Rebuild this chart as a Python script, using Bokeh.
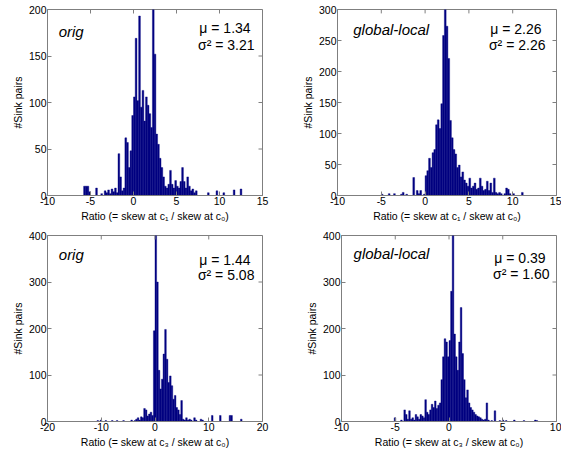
import numpy as np
from bokeh.plotting import figure
from bokeh.models import Range1d, Label, FixedTicker, ColumnDataSource
from bokeh.layouts import row, column
from bokeh.embed import file_html
from bokeh.resources import INLINE

# ---------------- data (histogram counts) ----------------
# Panel 1: orig, ratio skew c1 / c0 ; bins of 0.2 starting at -6.0
p1_start, p1_bin = -6.0, 0.2
p1_counts = [0, 10, 10, 10, 4,
             0, 0, 0, 8, 0,
             0, 2, 0, 5, 3,
             6, 2, 7, 4, 8,
             3, 45, 20, 5, 8,
             62, 57, 30, 48, 86,
             106, 169, 102, 193, 95,
             113, 80, 106, 97, 88,
             73, 200, 152, 66, 55,
             40, 30, 20, 10, 8,
             12, 27, 12, 8, 16,
             10, 8, 15, 30, 15,
             8, 20, 10, 5, 7,
             3, 5, 0, 0, 0,
             0, 0, 0, 3, 0,
             0, 0, 0, 5, 0,
             0, 0, 3, 0, 0,
             0, 0, 0, 6, 0,
             0, 0, 7, 0, 0]

# Panel 2: global-local, ratio skew c1 / c0 ; bins of 0.2 starting at -5.0
p2_start, p2_bin = -5.0, 0.2
p2_counts = [2, 0, 0, 0, 3,
             0, 0, 3, 0, 0,
             0, 2, 5, 0, 2,
             0, 0, 0, 29, 0,
             8, 3, 8, 0, 2,
             32, 40, 60, 45, 69,
             74, 114, 122, 108, 148,
             258, 300, 273, 221, 121,
             93, 74, 67, 45, 49,
             30, 38, 25, 20, 15,
             28, 12, 15, 20, 10,
             12, 28, 15, 8, 10,
             23, 8, 20, 5, 28,
             5, 3, 5, 3, 0,
             3, 12, 10, 3, 0,
             3, 0, 0, 0, 0,
             5]

# Panel 3: orig, ratio skew c3 / c0 ; bins of 0.3 starting at -10.8
p3_start, p3_bin = -10.8, 0.3
p3_counts = [2, 0, 3, 0, 0, 2, 0, 0, 0, 2,
             0, 0, 2, 0, 0, 0, 2, 0, 0, 0,
             0, 3, 0, 2, 5, 8, 3, 10, 8, 28,
             25, 12, 16, 20, 13, 195, 400, 300, 110, 70,
             91, 145, 198, 134, 84, 98, 77, 48, 56, 30,
             25, 15, 45, 5, 3, 8, 3, 5, 3, 0,
             8, 3, 0, 0, 5, 3, 0, 0, 0, 0,
             0, 13, 0, 0, 0, 0, 13, 0, 0, 0,
             0, 0, 13, 13, 0, 0, 0, 0, 0, 5]

# Panel 4: global-local, ratio skew c3 / c0 ; bins of 0.15 starting at -5.1
p4_start, p4_bin = -5.1, 0.15
p4_counts = [8, 0, 0, 0, 3, 0, 25, 15, 5, 23,
             5, 8, 3, 15, 10, 5, 15, 12, 8, 47,
             20, 15, 25, 37, 30, 44, 28, 35, 40, 90,
             139, 178, 171, 139, 174, 280, 400, 188, 139, 110,
             171, 245, 146, 90, 51, 68, 40, 30, 25, 20,
             15, 12, 10, 8, 5, 3, 5, 40, 3, 0,
             2, 0, 23, 0, 0, 2, 0, 3, 0, 2,
             0, 0, 0, 0, 3, 0, 0, 0, 0, 0,
             2, 0, 0, 0, 0, 0, 0, 3, 2]

methods = ["orig", "global-local", "orig", "global-local"]
mu_texts = ["1.34", "2.26", "1.44", "0.39"]
var_texts = ["3.21", "2.26", "5.08", "1.60"]
xlabels = ["Ratio (= skew at c\u2081 / skew at c\u2080)",
           "Ratio (= skew at c\u2081 / skew at c\u2080)",
           "Ratio (= skew at c\u2083 / skew at c\u2080)",
           "Ratio (= skew at c\u2083 / skew at c\u2080)"]
ylabel = "#Sink pairs"
x_ticks = [[-10, -5, 0, 5, 10, 15], [-10, -5, 0, 5, 10, 15],
           [-20, -10, 0, 10, 20], [-10, -5, 0, 5, 10]]
y_ticks = [[0, 50, 100, 150, 200], [0, 50, 100, 150, 200, 250, 300],
           [0, 100, 200, 300, 400], [0, 100, 200, 300, 400]]

FONT = "Liberation Sans"
BAR = "#000080"
AX = "#7f7f7f"
TICK_PX = 4


def style_axis(ax, ticks):
    ax.ticker = FixedTicker(ticks=ticks)
    ax.major_label_overrides = {t: str(t) for t in ticks}
    ax.axis_line_color = AX
    ax.major_tick_line_color = AX
    ax.major_tick_in = TICK_PX
    ax.major_tick_out = 0
    ax.minor_tick_line_color = None
    ax.major_label_text_font = FONT
    ax.major_label_text_color = "black"
    ax.major_label_text_font_size = "10.5px"
    ax.major_label_standoff = 1
    ax.axis_label_text_font = FONT
    ax.axis_label_text_font_size = "10.5px"
    ax.axis_label_text_font_style = "normal"
    ax.axis_label_text_color = "black"
    ax.axis_label_standoff = 2


def panel(i, counts, start, binw, xr, yr, w, h, borders, title_pos, stat_pos):
    counts = np.asarray(counts, dtype=float)
    left = start + binw * np.arange(len(counts))
    src = ColumnDataSource(dict(left=left, right=left + binw, top=counts,
                                bottom=np.zeros(len(counts))))
    p = figure(width=w, height=h, x_range=Range1d(*xr), y_range=Range1d(*yr),
               output_backend="svg", toolbar_location=None,
               min_border_left=borders[0], min_border_right=borders[1],
               min_border_top=borders[2], min_border_bottom=borders[3])
    p.quad(left="left", right="right", top="top", bottom="bottom", source=src,
           fill_color=BAR, line_color=BAR, line_width=0.4)
    p.xgrid.visible = False
    p.ygrid.visible = False
    p.outline_line_color = AX
    p.background_fill_color = "white"
    p.border_fill_color = "white"
    style_axis(p.xaxis[0], x_ticks[i])
    style_axis(p.yaxis[0], y_ticks[i])
    p.xaxis[0].axis_label = xlabels[i]
    p.yaxis[0].axis_label = ylabel

    # inward ticks on the top and right edges of the box (MATLAB style)
    fw = w - borders[0] - borders[1]
    fh = h - borders[2] - borders[3]
    dy = TICK_PX * (yr[1] - yr[0]) / fh
    dx = TICK_PX * (xr[1] - xr[0]) / fw
    xt = np.asarray(x_ticks[i], dtype=float)
    yt = np.asarray(y_ticks[i], dtype=float)
    p.segment(x0=xt, y0=np.full(len(xt), yr[1]), x1=xt, y1=np.full(len(xt), yr[1] - dy),
              line_color=AX, line_width=1)
    p.segment(x0=np.full(len(yt), xr[1]), y0=yt, x1=np.full(len(yt), xr[1] - dx), y1=yt,
              line_color=AX, line_width=1)

    p.add_layout(Label(x=title_pos[0], y=title_pos[1], text=methods[i],
                       text_font=FONT, text_font_size="15px",
                       text_font_style="italic", text_align="left",
                       text_baseline="alphabetic", text_color="black"))
    p.add_layout(Label(x=stat_pos[0], y=stat_pos[1], text="\u03bc  = " + mu_texts[i],
                       text_font=FONT, text_font_size="14px", text_align="right",
                       text_baseline="alphabetic", text_color="black"))
    p.add_layout(Label(x=stat_pos[0], y=stat_pos[2], text="\u03c3\u00b2 = " + var_texts[i],
                       text_font=FONT, text_font_size="14px", text_align="right",
                       text_baseline="alphabetic", text_color="black"))
    return p


p1 = panel(0, p1_counts, p1_start, p1_bin, (-10, 15), (0, 200), 280, 225,
           (47, 18, 9, 30), (-8.7, 176), (14.07, 180, 162))
p2 = panel(1, p2_counts, p2_start, p2_bin, (-10, 15), (0, 300), 281, 225,
           (57, 5, 8, 26), (-8.2, 268), (13.74, 268, 243))
p3 = panel(2, p3_counts, p3_start, p3_bin, (-20, 20), (0, 400), 280, 225,
           (47, 18, 9, 29), (-17.9, 359), (18.5, 348, 314))
p4 = panel(3, p4_counts, p4_start, p4_bin, (-10, 10), (0, 400), 281, 225,
           (61, 5, 10, 26), (-8.88, 361), (9.35, 351, 317))

layout = column(row(p1, p2), row(p3, p4))

open("out.html", "w").write(file_html(layout, INLINE))
